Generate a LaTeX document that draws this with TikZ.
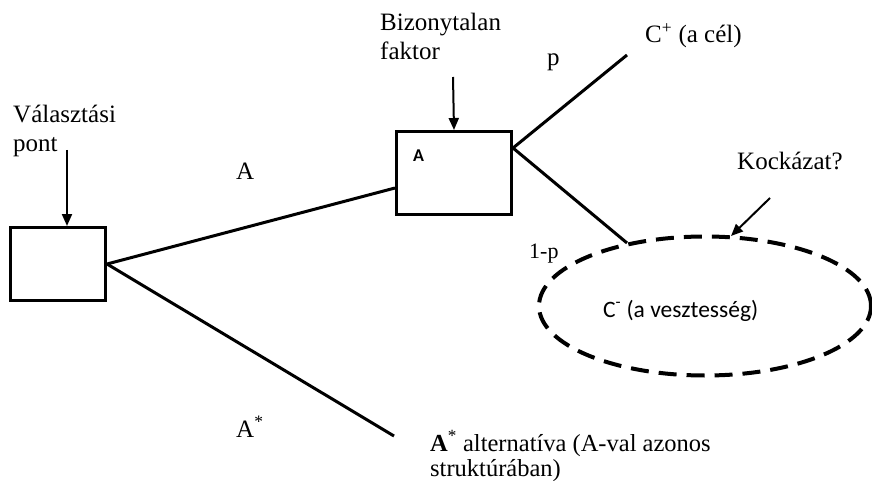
\documentclass[tikz,border=0pt]{standalone}
\usepackage{fontspec}
\setmainfont{Liberation Serif}
\newfontfamily\calfont{Carlito}
\usetikzlibrary{positioning, calc, arrows.meta, shapes.geometric}

\begin{document}
\begin{tikzpicture}[x=1pt, y=-1pt, >={Triangle[length=12pt, width=10pt]},
    font=\fontsize{25}{29}\selectfont,
    decbox/.style={draw, line width=3pt, inner sep=0pt},
    branch/.style={line width=3pt},
    pointer/.style={->, line width=2pt},
    lbl/.style={inner sep=0pt, anchor=base west, align=left}]
  \useasboundingbox (0,0) rectangle (872,481);

  % boxes
  \node[decbox, minimum width=95pt, minimum height=73pt] (choice) at (58,264) {};
  \node[decbox, minimum width=115pt, minimum height=83pt] (unc) at (454,173) {};
  \node[inner sep=0pt, anchor=base west, font=\calfont\bfseries\fontsize{18}{20}\selectfont] (uncName) at (413,162) {A};
  \node[ellipse, draw, dashed, line width=4pt, dash pattern=on 18pt off 10pt,
        minimum width=332pt, minimum height=139pt, inner sep=0pt] (loss) at (705,306) {};

  % end points of the branches
  \coordinate (cplus) at (627,55);
  \coordinate (cminus) at (627,243);
  \coordinate (astar) at (394,436);

  \draw[branch] (choice.east) -- ([yshift=-15pt]unc.west);
  \draw[branch] (choice.east) -- (astar);
  \draw[branch] ([yshift=25pt]unc.east) -- (cplus);
  \draw[branch] ([yshift=25pt]unc.east) -- (cminus);

  % labels (base = last line)
  \node[lbl] (choiceLbl) at (13,152) {Választási\\pont};
  \node[lbl] (uncLbl) at (380,60) {Bizonytalan\\faktor};
  \node[lbl] (riskLbl) at (737,170) {Kockázat?};
  \node[lbl] (aLbl) at (236,179) {A};
  \node[lbl] (astarLbl) at (236,437) {A\textsuperscript{*}};
  \node[lbl] (pLbl) at (547,66) {p};
  \node[lbl, font=\fontsize{22}{26}\selectfont] (qLbl) at (529,258) {1-p};
  \node[lbl] (cplusLbl) at (645,43) {C\textsuperscript{+} (a cél)};
  \node[lbl, font=\calfont\fontsize{23.5}{27}\selectfont] (lossLbl) at (603,317) {C\textsuperscript{-} (a vesztesség)};
  \node[lbl, font=\fontsize{24.5}{25}\selectfont] (altLbl) at (430,476) {\textbf{A}\textsuperscript{*} alternatíva (A-val azonos\\struktúrában)};

  % pointers
  \coordinate (choiceTop) at (67,150);
  \coordinate (uncTop) at (453,77);
  \coordinate (riskFrom) at (770,198);
  \coordinate (riskTo) at (731,236);
  \draw[pointer] (choiceTop) -- ([xshift=9pt]choice.north);
  \draw[pointer] (uncTop) -- (unc.north);
  \draw[pointer] (riskFrom) -- (riskTo);
\end{tikzpicture}
\end{document}
